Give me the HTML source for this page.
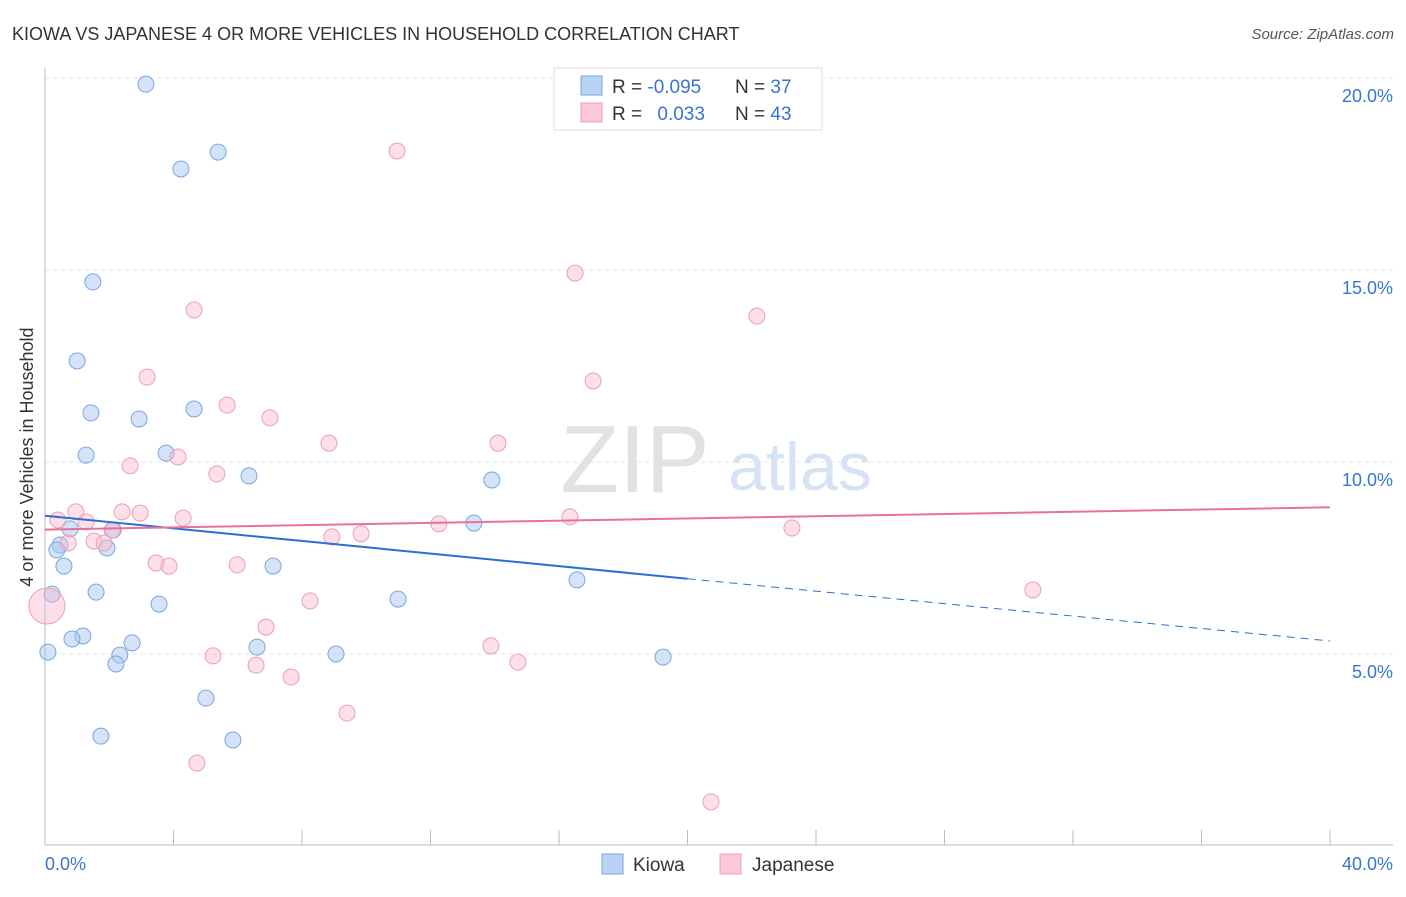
<!DOCTYPE html>
<html><head><meta charset="utf-8"><style>
body{margin:0;background:#fff;font-family:"Liberation Sans",sans-serif;}
svg text{font-family:"Liberation Sans",sans-serif;}
</style></head><body>
<svg id="c" width="1406" height="892">
<text x="12" y="40" font-size="18" fill="#333">KIOWA VS JAPANESE 4 OR MORE VEHICLES IN HOUSEHOLD CORRELATION CHART</text>
<text x="1394" y="39" font-size="15" fill="#555" text-anchor="end" font-style="italic">Source: ZipAtlas.com</text>
<text x="33" y="457" font-size="18" fill="#333" text-anchor="middle" transform="rotate(-90 33 457)">4 or more Vehicles in Household</text>
<text x="635" y="492" font-size="96" fill="#e2e2e2" text-anchor="middle" font-family="Liberation Serif">ZIP</text>
<text x="800" y="490" font-size="68" fill="#d6e3f5" text-anchor="middle">atlas</text>
<g id="grid"></g><g id="pts"></g><g id="lines"></g>
<g>
<rect x="554" y="68" width="268" height="62" fill="#fff" stroke="#ddd"/>
<rect x="581" y="76" width="21" height="19" fill="#b9d3f5" stroke="#7aa6e0"/>
<rect x="581" y="103" width="21" height="19" fill="#fcc8d8" stroke="#eb9fb6"/>
<text x="612" y="93" font-size="19" fill="#333">R = <tspan fill="#3b73d1">-0.095</tspan></text>
<text x="735" y="93" font-size="19" fill="#333">N = <tspan fill="#3b73d1">37</tspan></text>
<text x="612" y="120" font-size="19" fill="#333">R = <tspan fill="#3b73d1" dx="10">0.033</tspan></text>
<text x="735" y="120" font-size="19" fill="#333">N = <tspan fill="#3b73d1">43</tspan></text>
</g>
<g>
<rect x="602" y="854" width="21" height="20" fill="#b9d3f5" stroke="#7aa6e0"/>
<text x="633" y="871" font-size="19" fill="#333">Kiowa</text>
<rect x="720" y="854" width="21" height="20" fill="#fcc8d8" stroke="#eb9fb6"/>
<text x="752" y="871" font-size="19" fill="#333">Japanese</text>
</g>
</svg>
<script>
const kiowaX=[3.14,4.23,5.39,1.49,1.00,1.43,2.93,4.64,1.28,3.77,6.35,13.91,13.35,0.78,0.47,0.37,2.12,1.93,0.59,7.10,16.56,1.59,0.22,3.55,10.99,1.18,0.84,2.71,6.60,2.33,0.09,9.06,19.24,2.21,5.01,1.74,5.85];
const kiowaY=[19.84,17.63,18.07,14.69,12.63,11.28,11.12,11.38,10.18,10.23,9.64,9.53,8.41,8.26,7.84,7.71,8.23,7.76,7.29,7.29,6.93,6.61,6.56,6.30,6.43,5.47,5.39,5.29,5.18,4.97,5.05,5.00,4.92,4.74,3.85,2.86,2.76];
const japX=[10.96,16.50,4.64,22.16,3.18,17.06,5.67,7.00,8.84,14.10,4.14,2.65,5.35,0.96,0.40,1.28,2.40,2.96,4.30,12.26,16.34,23.25,2.09,0.72,1.53,1.84,8.93,9.84,3.46,3.86,5.98,8.25,30.75,6.88,13.88,5.23,6.57,14.72,7.66,9.40,4.73,20.73,0.06];
const japY=[18.10,14.92,13.96,13.80,12.21,12.11,11.48,11.15,10.49,10.49,10.13,9.90,9.69,8.70,8.49,8.44,8.70,8.67,8.54,8.39,8.57,8.28,8.23,7.89,7.94,7.89,8.05,8.13,7.37,7.29,7.32,6.38,6.67,5.70,5.21,4.95,4.71,4.79,4.40,3.46,2.16,1.15,6.25];
const yTicks=[5,10,15,20];
const yTickLabels=["5.0%","10.0%","15.0%","20.0%"];
const kiowaTrend=[[0,8.6],[20,6.96],[40,5.34]];
const japTrend=[[0,8.24],[40,8.82]];
const X=v=>45+v*32.125, Y=v=>846-v*38.4;
const NS="http://www.w3.org/2000/svg";
function mk(p,t,a){const e=document.createElementNS(NS,t);for(const k in a)e.setAttribute(k,a[k]);p.appendChild(e);return e;}
const g=document.getElementById('grid');
yTicks.forEach((t,i)=>{
 const l=mk(g,'line',{x1:45,x2:1393,y1:Y(t),y2:Y(t),stroke:'#e3e3e3','stroke-dasharray':'4,4'});
 
 
 const tx=mk(g,'text',{x:1393,y:Y(t)+24,'font-size':18,fill:'#3b73d1','text-anchor':'end'});
 tx.textContent=yTickLabels[i];
 
 
});
const ax=mk(g,'line',{x1:45,x2:1393,y1:845,y2:845,stroke:'#bbb'});


const ay=mk(g,'line',{x1:45,x2:45,y1:68,y2:845,stroke:'#bbb'});


for(let i=0;i<=10;i++){const t=mk(g,'line',{x1:X(i*4),x2:X(i*4),y1:830,y2:845,stroke:'#bbb'});
 
 }
[["0.0%",45,'start'],["40.0%",1393,'end']].forEach(a=>{const t=mk(g,'text',{x:a[1],y:870,'font-size':18,fill:'#3b73d1','text-anchor':a[2]});t.textContent=a[0];
 
 });
const p=document.getElementById('pts');
kiowaX.forEach((x,i)=>{const c=mk(p,'circle',{cx:X(x),cy:Y(kiowaY[i]),r:8,fill:'rgba(170,200,240,0.5)',stroke:'#7aa6e0','stroke-width':1});
 
 });
japX.forEach((x,i)=>{const c=mk(p,'circle',{cx:X(x),cy:Y(japY[i]),r:i==japX.length-1?18:8,fill:'rgba(248,185,205,0.45)',stroke:'#eb9fb6','stroke-width':1});
 
 });
const L=document.getElementById('lines');
const k1=mk(L,'line',{x1:X(kiowaTrend[0][0]),y1:Y(kiowaTrend[0][1]),x2:X(kiowaTrend[1][0]),y2:Y(kiowaTrend[1][1]),stroke:'#2a6fd6','stroke-width':2});


const k2=mk(L,'line',{x1:X(kiowaTrend[1][0]),y1:Y(kiowaTrend[1][1]),x2:X(kiowaTrend[2][0]),y2:Y(kiowaTrend[2][1]),stroke:'#2a6fd6','stroke-width':1,'stroke-dasharray':'8,6'});


const j1=mk(L,'line',{x1:X(japTrend[0][0]),y1:Y(japTrend[0][1]),x2:X(japTrend[1][0]),y2:Y(japTrend[1][1]),stroke:'#e8709a','stroke-width':2});


</script>
</body></html>
